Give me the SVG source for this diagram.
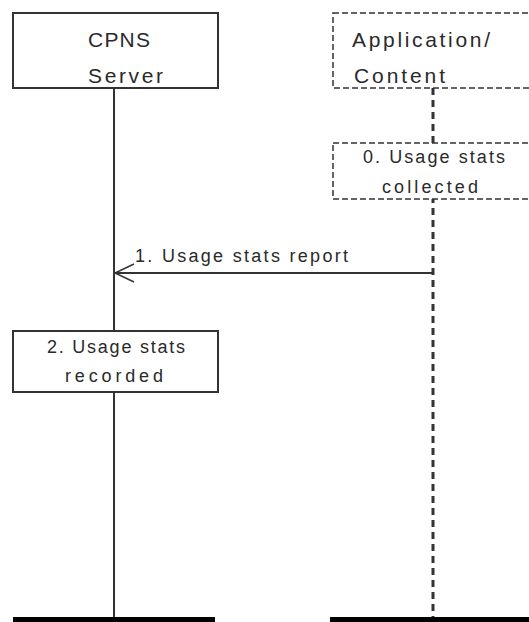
<svg xmlns="http://www.w3.org/2000/svg" width="529" height="622" viewBox="0 0 529 622">
<style>
text{font-family:"Liberation Sans",Arial,sans-serif;fill:#2a2a2a;}
.t1{font-size:21px;}
.t2{font-size:18px;}
.box{fill:#fff;stroke:#333;stroke-width:2;}
.dbox{fill:#fff;stroke:#333;stroke-width:1.5;stroke-dasharray:6 3;}
.life{stroke:#333;stroke-width:2;fill:none;}
.dlife{stroke:#333;stroke-width:3;stroke-dasharray:7 5;fill:none;}
.bar{stroke:#000;stroke-width:5;}
</style>
<defs>
<marker id="open" markerWidth="22" markerHeight="22" refX="20" refY="10" orient="auto" markerUnits="userSpaceOnUse">
<path d="M1,1 L20,10 L1,19" fill="none" stroke="#333" stroke-width="1.5"/>
</marker>
</defs>
<g id="lifelines">
<line class="life" x1="114" y1="88" x2="114" y2="618"/>
<line class="dlife" x1="433" y1="88" x2="433" y2="618"/>
</g>
<g id="cpns">
<rect class="box" x="13" y="13" width="205" height="75"/>
<text class="t1" x="88" y="47" textLength="62" lengthAdjust="spacing">CPNS</text>
<text class="t1" x="88" y="83" textLength="75" lengthAdjust="spacing">Server</text>
</g>
<g id="app">
<rect class="dbox" x="333" y="13" width="200" height="75"/>
<text class="t1" x="352" y="47" textLength="138" lengthAdjust="spacing">Application/</text>
<text class="t1" x="354" y="83" textLength="91" lengthAdjust="spacing">Content</text>
</g>
<g id="step0">
<rect class="dbox" x="333" y="143" width="200" height="56"/>
<text class="t2" x="363" y="163" textLength="142" lengthAdjust="spacing">0. Usage stats</text>
<text class="t2" x="382" y="193" textLength="96" lengthAdjust="spacing">collected</text>
</g>
<g id="connectors">
<line x1="433" y1="273" x2="115" y2="273" stroke="#333" stroke-width="2" marker-end="url(#open)"/>
<text class="t2" x="135" y="262" textLength="213" lengthAdjust="spacing">1. Usage stats report</text>
</g>
<g id="step2">
<rect class="box" x="13" y="331" width="205" height="61"/>
<text class="t2" x="47" y="353" textLength="138" lengthAdjust="spacing">2. Usage stats</text>
<text class="t2" x="65" y="382" textLength="98" lengthAdjust="spacing">recorded</text>
</g>
<g id="bars">
<line class="bar" x1="13" y1="619.5" x2="215" y2="619.5"/>
<line class="bar" x1="330" y1="619.5" x2="529" y2="619.5"/>
</g>
</svg>
